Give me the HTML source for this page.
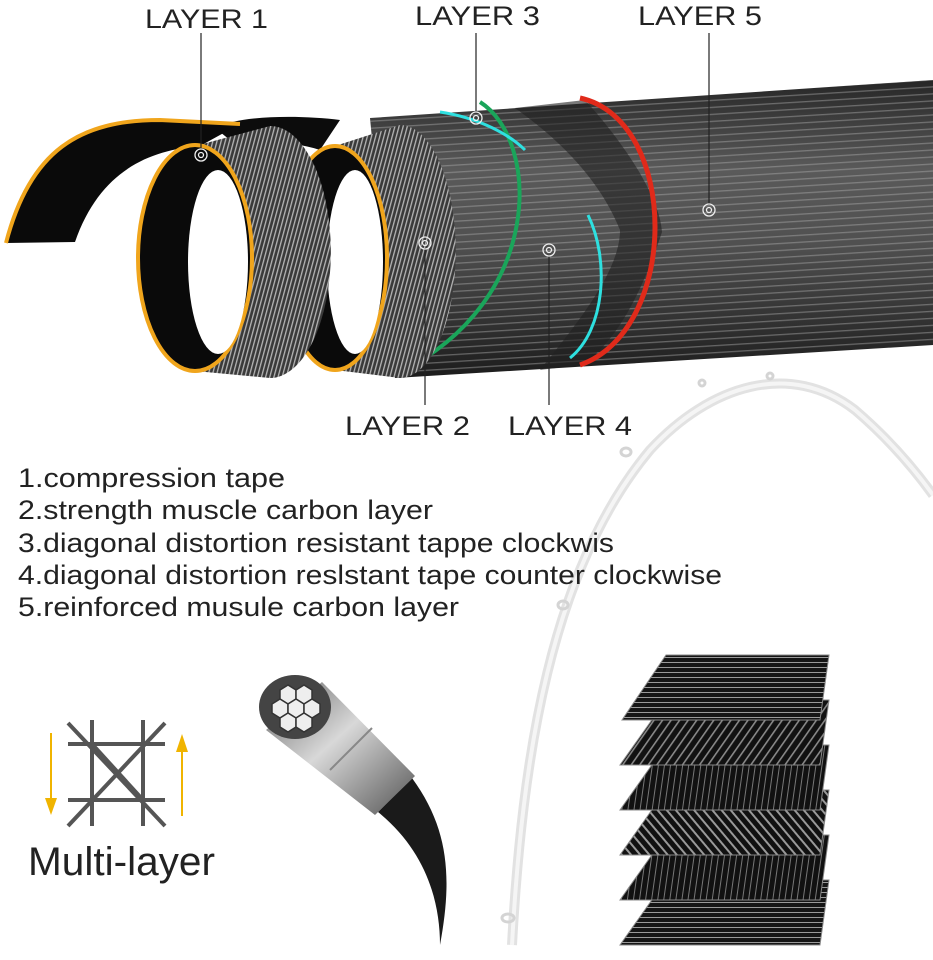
<!DOCTYPE html>
<html><head><meta charset="utf-8"><style>
html,body{margin:0;padding:0;background:#fff}
svg{display:block}
text{font-family:"Liberation Sans",Arial,sans-serif}
</style></head><body>
<svg width="933" height="960" viewBox="0 0 933 960" xmlns="http://www.w3.org/2000/svg">
<defs>
<linearGradient id="tube" x1="0" y1="0" x2="0" y2="1">
<stop offset="0" stop-color="#262626"/><stop offset="0.3" stop-color="#5a5a5a"/><stop offset="0.55" stop-color="#505050"/><stop offset="1" stop-color="#1c1c1c"/>
</linearGradient>
<pattern id="hstripe" width="8" height="7" patternUnits="userSpaceOnUse" patternTransform="rotate(-3.5)">
<rect width="8" height="7" fill="none"/><rect y="3" width="8" height="1.3" fill="#b0b0b0" opacity="0.45"/>
</pattern>
<pattern id="band" width="4" height="8" patternUnits="userSpaceOnUse" patternTransform="rotate(15)">
<rect width="4" height="8" fill="#3a3a3a"/><rect x="1.5" width="1.3" height="8" fill="#b5b5b5"/>
</pattern>
<linearGradient id="cable" x1="0" y1="0" x2="1" y2="1">
<stop offset="0" stop-color="#666"/><stop offset="0.45" stop-color="#d8d8d8"/><stop offset="1" stop-color="#555"/>
</linearGradient>
<pattern id="s1" width="10" height="5" patternUnits="userSpaceOnUse"><rect width="10" height="5" fill="#151515"/><rect y="2" width="10" height="1" fill="#999"/></pattern>
<pattern id="s2" width="7" height="10" patternUnits="userSpaceOnUse" patternTransform="rotate(35)"><rect width="7" height="10" fill="#111"/><rect x="3" width="1.6" height="10" fill="#888"/></pattern>
<pattern id="s3" width="6" height="10" patternUnits="userSpaceOnUse" patternTransform="rotate(8)"><rect width="6" height="10" fill="#111"/><rect x="2" width="1" height="10" fill="#777"/></pattern>
<pattern id="s4" width="7" height="10" patternUnits="userSpaceOnUse" patternTransform="rotate(-40)"><rect width="7" height="10" fill="#111"/><rect x="3" width="2" height="10" fill="#999"/></pattern>
</defs>

<!-- labels -->
<g font-size="27" fill="#222">
<text x="145" y="28" textLength="123" lengthAdjust="spacingAndGlyphs">LAYER 1</text>
<text x="415" y="25" textLength="125" lengthAdjust="spacingAndGlyphs">LAYER 3</text>
<text x="638" y="25" textLength="124" lengthAdjust="spacingAndGlyphs">LAYER 5</text>
<text x="345" y="435" textLength="125" lengthAdjust="spacingAndGlyphs">LAYER 2</text>
<text x="508" y="435" textLength="124" lengthAdjust="spacingAndGlyphs">LAYER 4</text>
</g>

<!-- rod -->
<path d="M512,945 C522,760 550,570 650,450 C710,385 790,360 855,410 C890,440 915,470 933,495" fill="none" stroke="#e2e2e2" stroke-width="10"/>
<path d="M512,945 C522,760 550,570 650,450 C710,385 790,360 855,410 C890,440 915,470 933,495" fill="none" stroke="#f5f5f5" stroke-width="4"/>
<g fill="none" stroke="#d4d4d4" stroke-width="3">
<ellipse cx="626" cy="452" rx="5" ry="4"/><ellipse cx="563" cy="605" rx="5" ry="4"/><ellipse cx="508" cy="918" rx="6" ry="4"/><circle cx="702" cy="383" r="3"/><circle cx="770" cy="376" r="3"/>
</g>

<!-- main tube -->
<path d="M370,118 L933,80 L933,345 L395,378 Z" fill="url(#tube)"/>
<path d="M370,118 L933,80 L933,345 L395,378 Z" fill="url(#hstripe)"/>
<path d="M515,108 L585,100 C630,150 660,200 662,232 C640,300 610,350 580,365 L540,370 C580,320 620,270 620,230 C600,180 560,140 515,108 Z" fill="#222" opacity="0.6"/>
<path d="M372,135 C410,175 420,290 390,372" fill="none" stroke="#2a1a6a" stroke-width="5"/>
<path d="M480,102 C540,140 545,300 400,372" fill="none" stroke="#1aa55a" stroke-width="4"/>
<path d="M580,98 C680,120 680,330 580,365" fill="none" stroke="#e02a1a" stroke-width="5"/>
<path d="M440,112 C480,118 510,135 525,150" fill="none" stroke="#2ee0e0" stroke-width="3"/>
<path d="M588,215 C610,260 605,330 570,358" fill="none" stroke="#2ee0e0" stroke-width="3"/>

<!-- coil 2 -->
<path d="M335,146 A52,112 0 0 1 335,370 L400,378 A52,118 0 0 0 400,125 Z" fill="url(#band)"/>
<path d="M215,128 C240,115 300,115 340,120 L320,150 C290,140 250,140 240,148 Z" fill="#0c0c0c"/>
<ellipse cx="335" cy="258" rx="52" ry="112" fill="#0a0a0a" stroke="#f0a51c" stroke-width="4"/>
<ellipse cx="355" cy="262" rx="28" ry="92" fill="#fff"/>

<!-- coil 1 -->
<path d="M195,146 A57,113 0 0 1 195,371 L270,378 A57,118 0 0 0 270,126 Z" fill="url(#band)"/>
<path d="M6,243 C30,150 80,120 160,120 L240,124 L200,146 C150,150 100,170 75,242 Z" fill="#0a0a0a"/>
<path d="M6,243 C30,150 80,120 160,120 L240,124" fill="none" stroke="#f0a51c" stroke-width="4"/>
<ellipse cx="195" cy="258" rx="57" ry="113" fill="#0a0a0a" stroke="#f0a51c" stroke-width="4"/>
<ellipse cx="218" cy="262" rx="30" ry="92" fill="#fff"/>

<!-- leader lines -->
<g stroke="#222" stroke-width="1.2">
<line x1="201" y1="33" x2="201" y2="150"/>
<line x1="476" y1="33" x2="476" y2="113"/>
<line x1="709" y1="33" x2="709" y2="205"/>
<line x1="425" y1="248" x2="425" y2="405"/>
<line x1="549" y1="255" x2="549" y2="405"/>
</g>
<g fill="none" stroke="#eee" stroke-width="1.3">
<circle cx="201" cy="155" r="6"/><circle cx="201" cy="155" r="2.5"/>
<circle cx="476" cy="118" r="6"/><circle cx="476" cy="118" r="2.5"/>
<circle cx="709" cy="210" r="6"/><circle cx="709" cy="210" r="2.5"/>
<circle cx="425" cy="243" r="6"/><circle cx="425" cy="243" r="2.5"/>
<circle cx="549" cy="250" r="6"/><circle cx="549" cy="250" r="2.5"/>
</g>

<!-- list -->
<g font-size="27" fill="#222">
<text x="18" y="487" textLength="267" lengthAdjust="spacingAndGlyphs">1.compression tape</text>
<text x="18" y="519" textLength="415" lengthAdjust="spacingAndGlyphs">2.strength muscle carbon layer</text>
<text x="18" y="552" textLength="596" lengthAdjust="spacingAndGlyphs">3.diagonal distortion resistant tappe clockwis</text>
<text x="18" y="584" textLength="704" lengthAdjust="spacingAndGlyphs">4.diagonal distortion reslstant tape counter clockwise</text>
<text x="18" y="616" textLength="441" lengthAdjust="spacingAndGlyphs">5.reinforced musule carbon layer</text>
</g>

<!-- multi-layer icon -->
<g stroke="#555" stroke-width="4">
<line x1="92" y1="720" x2="92" y2="826"/><line x1="143" y1="720" x2="143" y2="826"/>
<line x1="68" y1="744" x2="165" y2="744"/><line x1="68" y1="800" x2="165" y2="800"/>
<line x1="68" y1="723" x2="165" y2="826"/><line x1="165" y1="723" x2="68" y2="826"/>
<line x1="92" y1="744" x2="143" y2="800"/>
</g>
<g fill="#f0b400" stroke="#f0b400">
<line x1="51" y1="733" x2="51" y2="800" stroke-width="2"/><polygon points="45,798 57,798 51,815" stroke="none"/>
<line x1="182" y1="750" x2="182" y2="816" stroke-width="2"/><polygon points="176,752 188,752 182,734" stroke="none"/>
</g>
<text x="28" y="875" font-size="40" fill="#222" textLength="187" lengthAdjust="spacingAndGlyphs">Multi-layer</text>

<!-- cable -->
<path d="M378,812 C425,850 440,900 440,945 C452,880 450,830 412,778 Z" fill="#1a1a1a"/>
<path d="M266,730 L322,682 L415,776 L375,815 Z" fill="url(#cable)"/>
<line x1="330" y1="770" x2="372" y2="728" stroke="#888" stroke-width="2"/>
<ellipse cx="295" cy="707" rx="36" ry="32" fill="#444"/>
<g fill="#eee" stroke="#333" stroke-width="1.5">
<polygon points="280,690 288,685 296,690 296,699 288,704 280,699"/>
<polygon points="296,690 304,685 312,690 312,699 304,704 296,699"/>
<polygon points="272,704 280,699 288,704 288,713 280,718 272,713"/>
<polygon points="288,704 296,699 304,704 304,713 296,718 288,713"/>
<polygon points="304,704 312,699 320,704 320,713 312,718 304,713"/>
<polygon points="280,718 288,713 296,718 296,727 288,732 280,727"/>
<polygon points="296,718 304,713 312,718 312,727 304,732 296,727"/>
</g>

<!-- carbon sheets -->
<g stroke="#888" stroke-width="1">
<polygon points="666,880 829,880 820,945 620,945" fill="url(#s1)"/>
<polygon points="666,835 829,835 820,900 620,900" fill="url(#s3)"/>
<polygon points="666,790 829,790 820,855 620,855" fill="url(#s4)"/>
<polygon points="666,745 829,745 820,810 620,810" fill="url(#s3)"/>
<polygon points="666,700 829,700 820,765 620,765" fill="url(#s2)"/>
<polygon points="666,655 829,655 820,720 622,720" fill="url(#s1)"/>
</g>
</svg>
</body></html>
